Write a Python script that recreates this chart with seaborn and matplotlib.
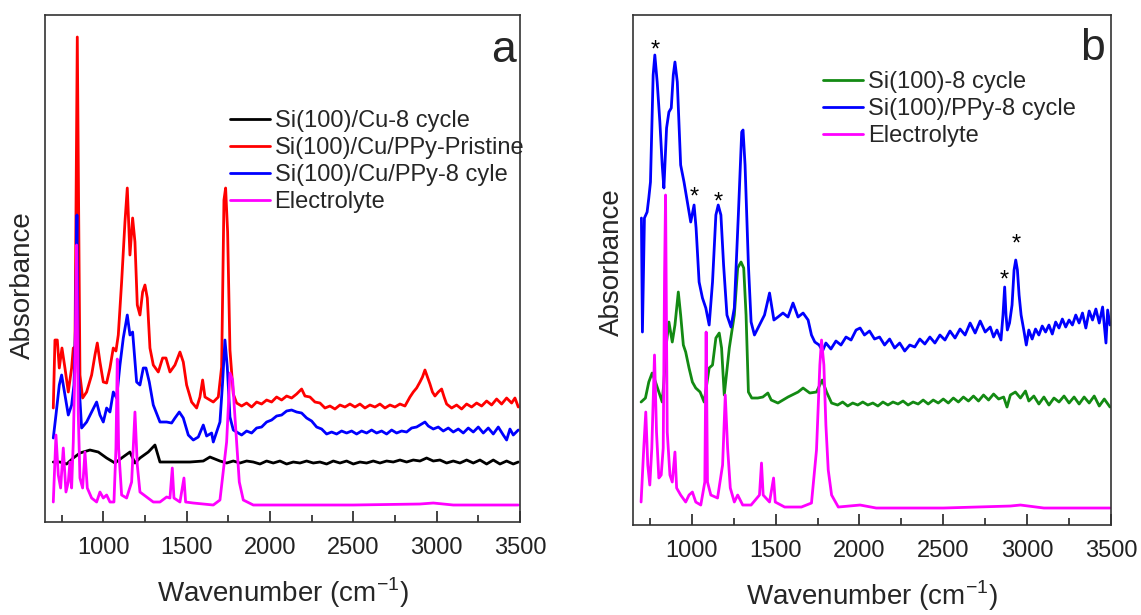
import matplotlib
matplotlib.use("Agg")
import matplotlib.pyplot as plt
import seaborn as sns

# ---- panel a: Si(100)/Cu samples (wavenumber cm-1, absorbance a.u.) ----
a_cu_wn = [700, 740, 780, 820, 860, 920, 970, 1020, 1070, 1110, 1160, 1190, 1220, 1270,
           1310, 1340, 1420, 1520, 1600, 1640, 1700, 1740, 1780, 1820, 1860, 1900, 1940,
           1980, 2020, 2060, 2100, 2140, 2180, 2220, 2260, 2300, 2340, 2380, 2420, 2460,
           2500, 2540, 2580, 2620, 2660, 2700, 2740, 2780, 2820, 2860, 2900, 2940, 2980,
           3020, 3060, 3100, 3140, 3180, 3220, 3260, 3300, 3340, 3380, 3420, 3460, 3490]
a_cu_abs = [0.60, 0.60, 0.58, 0.64, 0.69, 0.72, 0.70, 0.64, 0.59, 0.64, 0.70, 0.59, 0.64,
            0.70, 0.77, 0.60, 0.60, 0.60, 0.61, 0.65, 0.61, 0.59, 0.61, 0.59, 0.61, 0.60,
            0.58, 0.61, 0.59, 0.61, 0.58, 0.60, 0.59, 0.61, 0.59, 0.60, 0.58, 0.61, 0.59,
            0.61, 0.58, 0.60, 0.59, 0.61, 0.59, 0.61, 0.60, 0.62, 0.60, 0.62, 0.61, 0.64,
            0.61, 0.62, 0.59, 0.61, 0.59, 0.62, 0.59, 0.62, 0.58, 0.62, 0.58, 0.61, 0.58,
            0.60]

a_pristine_wn = [700, 710, 724, 736, 752, 770, 790, 810, 820, 830, 844, 860, 876, 900, 930,
                 950, 964, 980, 1000, 1020, 1040, 1060, 1076, 1090, 1110, 1130, 1144, 1160,
                 1176, 1190, 1204, 1220, 1236, 1250, 1264, 1280, 1300, 1330, 1356, 1376,
                 1400, 1430, 1460, 1480, 1500, 1530, 1560, 1580, 1596, 1610, 1640, 1660,
                 1690, 1710, 1724, 1734, 1746, 1760, 1780, 1800, 1830, 1860, 1890, 1920,
                 1950, 1980, 2010, 2040, 2070, 2100, 2130, 2160, 2190, 2210, 2240, 2270,
                 2300, 2330, 2360, 2390, 2420, 2450, 2480, 2510, 2540, 2570, 2600, 2630,
                 2660, 2690, 2720, 2750, 2780, 2810, 2840, 2860, 2880, 2900, 2915, 2930,
                 2945, 2960, 2975, 2990, 3010, 3030, 3045, 3060, 3090, 3120, 3150, 3180,
                 3210, 3240, 3270, 3300, 3330, 3360, 3390, 3420, 3450, 3470, 3490]
a_pristine_abs = [1.14, 1.82, 1.82, 1.54, 1.74, 1.54, 1.30, 1.54, 1.74, 1.74, 4.85, 1.47,
                  1.24, 1.30, 1.47, 1.67, 1.79, 1.60, 1.40, 1.39, 1.54, 1.74, 1.71, 1.87,
                  2.40, 3.00, 3.34, 2.67, 3.04, 2.80, 2.17, 2.07, 2.30, 2.37, 2.24, 1.74,
                  1.57, 1.50, 1.64, 1.64, 1.50, 1.57, 1.70, 1.60, 1.37, 1.20, 1.14, 1.25,
                  1.42, 1.25, 1.22, 1.20, 1.25, 1.55, 3.22, 3.34, 2.90, 1.72, 1.28, 1.19,
                  1.16, 1.19, 1.15, 1.20, 1.18, 1.22, 1.20, 1.25, 1.22, 1.26, 1.24, 1.28,
                  1.33, 1.26, 1.25, 1.20, 1.19, 1.14, 1.16, 1.13, 1.17, 1.15, 1.18, 1.15,
                  1.18, 1.14, 1.17, 1.15, 1.18, 1.14, 1.17, 1.15, 1.18, 1.16, 1.25, 1.30,
                  1.34, 1.40, 1.45, 1.52, 1.45, 1.38, 1.30, 1.26, 1.30, 1.33, 1.25, 1.18,
                  1.14, 1.17, 1.13, 1.18, 1.15, 1.19, 1.16, 1.21, 1.17, 1.23, 1.18, 1.24,
                  1.19, 1.24, 1.15]

a_ppy8_wn = [700, 716, 736, 750, 770, 790, 810, 824, 834, 842, 850, 870, 900, 930, 960, 980,
             1000, 1020, 1040, 1060, 1080, 1100, 1120, 1144, 1160, 1176, 1200, 1220, 1240,
             1256, 1276, 1300, 1340, 1380, 1410, 1430, 1456, 1480, 1510, 1540, 1570, 1600,
             1620, 1650, 1660, 1680, 1700, 1716, 1730, 1744, 1760, 1780, 1800, 1830, 1860,
             1890, 1920, 1950, 1980, 2010, 2040, 2070, 2100, 2130, 2160, 2190, 2220, 2250,
             2280, 2310, 2340, 2370, 2400, 2430, 2460, 2490, 2520, 2550, 2580, 2610, 2640,
             2670, 2700, 2730, 2760, 2790, 2820, 2850, 2880, 2910, 2930, 2950, 2980, 3010,
             3040, 3070, 3100, 3130, 3160, 3190, 3220, 3250, 3280, 3310, 3340, 3370, 3400,
             3420, 3440, 3460, 3490]
a_ppy8_abs = [0.84, 1.07, 1.37, 1.47, 1.27, 1.07, 1.17, 1.37, 2.00, 3.07, 1.50, 0.94, 1.00,
              1.10, 1.20, 1.07, 1.00, 1.14, 1.10, 1.30, 1.24, 1.57, 1.84, 2.07, 1.87, 1.90,
              1.40, 1.37, 1.54, 1.54, 1.40, 1.17, 1.00, 1.00, 0.99, 1.04, 1.10, 1.04, 0.87,
              0.82, 0.85, 0.97, 0.86, 0.89, 0.80, 0.90, 1.00, 1.40, 1.82, 1.55, 1.05, 0.92,
              0.90, 0.87, 0.91, 0.89, 0.94, 0.95, 1.00, 1.02, 1.06, 1.07, 1.11, 1.12, 1.10,
              1.09, 1.04, 1.01, 0.95, 0.93, 0.88, 0.90, 0.88, 0.91, 0.89, 0.91, 0.88, 0.91,
              0.89, 0.92, 0.89, 0.91, 0.88, 0.92, 0.89, 0.91, 0.90, 0.94, 0.95, 0.98, 1.00,
              0.96, 0.93, 0.95, 0.91, 0.94, 0.90, 0.93, 0.89, 0.94, 0.90, 0.95, 0.89, 0.94,
              0.88, 0.95, 0.87, 0.82, 0.93, 0.87, 0.92]

a_elec_wn = [700, 716, 730, 744, 760, 776, 790, 800, 810, 820, 832, 840, 850, 860, 876, 890,
             904, 930, 960, 980, 1000, 1020, 1040, 1064, 1076, 1084, 1092, 1110, 1140, 1170,
             1190, 1204, 1220, 1260, 1300, 1340, 1380, 1400, 1414, 1424, 1460, 1484, 1494,
             1540, 1600, 1660, 1700, 1740, 1760, 1776, 1788, 1800, 1816, 1840, 1900, 2000,
             2500, 2900, 2980, 3100, 3490]
a_elec_abs = [0.20, 0.87, 0.47, 0.34, 0.74, 0.30, 0.40, 0.60, 0.34, 0.80, 1.73, 2.77, 1.07,
              0.44, 0.34, 0.70, 0.34, 0.24, 0.20, 0.30, 0.24, 0.27, 0.20, 0.20, 0.74, 1.63,
              0.74, 0.27, 0.24, 0.40, 1.10, 0.57, 0.30, 0.25, 0.20, 0.20, 0.25, 0.24, 0.54,
              0.24, 0.20, 0.44, 0.20, 0.19, 0.18, 0.17, 0.22, 0.80, 1.49, 1.42, 1.10, 0.80,
              0.40, 0.22, 0.17, 0.17, 0.17, 0.18, 0.19, 0.17, 0.17]

# ---- panel b: Si(100) samples ----
b_si8_wn = [698, 724, 744, 764, 784, 804, 824, 834, 850, 864, 884, 900, 920, 934, 950, 964,
            984, 1004, 1024, 1050, 1074, 1104, 1124, 1144, 1164, 1178, 1194, 1224, 1254,
            1274, 1294, 1310, 1324, 1338, 1358, 1394, 1424, 1454, 1474, 1514, 1574, 1634,
            1664, 1704, 1744, 1778, 1804, 1834, 1870, 1900, 1930, 1960, 1990, 2020, 2050,
            2080, 2110, 2140, 2170, 2200, 2230, 2260, 2290, 2320, 2350, 2380, 2410, 2440,
            2470, 2500, 2530, 2560, 2590, 2620, 2650, 2680, 2710, 2740, 2770, 2800, 2830,
            2860, 2880, 2900, 2930, 2960, 2990, 3010, 3040, 3070, 3100, 3130, 3160, 3190,
            3220, 3250, 3280, 3310, 3340, 3370, 3400, 3430, 3460, 3494]
b_si8_abs = [1.23, 1.27, 1.43, 1.52, 1.43, 1.33, 1.23, 1.43, 1.83, 2.03, 1.83, 2.00, 2.33,
             2.10, 1.80, 1.73, 1.57, 1.43, 1.37, 1.33, 1.23, 1.57, 1.60, 1.87, 1.92, 1.77,
             1.30, 1.77, 2.10, 2.57, 2.63, 2.57, 2.10, 1.33, 1.27, 1.27, 1.28, 1.32, 1.25,
             1.22, 1.28, 1.33, 1.37, 1.32, 1.33, 1.45, 1.33, 1.22, 1.20, 1.23, 1.19, 1.22,
             1.20, 1.23, 1.20, 1.22, 1.19, 1.23, 1.20, 1.23, 1.21, 1.24, 1.20, 1.23, 1.21,
             1.25, 1.21, 1.25, 1.22, 1.26, 1.22, 1.27, 1.23, 1.28, 1.24, 1.29, 1.24, 1.30,
             1.25, 1.31, 1.26, 1.28, 1.18, 1.30, 1.33, 1.27, 1.34, 1.24, 1.29, 1.21, 1.28,
             1.20, 1.27, 1.23, 1.29, 1.22, 1.28, 1.21, 1.28, 1.22, 1.29, 1.19, 1.26, 1.18]

b_ppy8_wn = [700, 706, 718, 734, 744, 754, 770, 780, 794, 810, 824, 834, 850, 864, 878, 890,
             900, 914, 934, 954, 974, 994, 1014, 1026, 1044, 1064, 1084, 1104, 1124, 1144,
             1158, 1174, 1190, 1210, 1234, 1254, 1278, 1298, 1306, 1318, 1338, 1354, 1374,
             1404, 1434, 1464, 1490, 1514, 1544, 1574, 1604, 1634, 1664, 1694, 1714, 1734,
             1760, 1780, 1800, 1830, 1860, 1890, 1920, 1950, 1980, 2004, 2030, 2060, 2090,
             2120, 2150, 2180, 2210, 2240, 2270, 2300, 2330, 2360, 2390, 2420, 2450, 2480,
             2510, 2540, 2570, 2600, 2630, 2660, 2690, 2720, 2750, 2780, 2800, 2820, 2844,
             2856, 2866, 2874, 2882, 2895, 2910, 2922, 2932, 2942, 2952, 2964, 2980, 2995,
             3010, 3030, 3050, 3070, 3090, 3110, 3130, 3150, 3170, 3190, 3210, 3230, 3250,
             3270, 3290, 3310, 3330, 3350, 3370, 3390, 3410, 3430, 3450, 3470, 3480, 3494]
b_ppy8_abs = [3.07, 1.93, 3.07, 3.13, 3.27, 3.43, 4.50, 4.70, 4.43, 4.03, 3.60, 3.37, 3.97,
              4.13, 4.17, 4.50, 4.63, 4.43, 3.60, 3.43, 3.23, 3.03, 3.20, 2.97, 2.43, 2.27,
              2.17, 2.00, 2.43, 3.10, 3.20, 3.10, 2.60, 2.10, 1.98, 2.17, 3.10, 3.93, 3.95,
              3.60, 2.60, 2.03, 1.90, 2.00, 2.10, 2.32, 2.05, 2.08, 2.12, 2.08, 2.22, 2.08,
              2.12, 2.05, 1.90, 1.83, 1.80, 1.74, 1.82, 1.76, 1.84, 1.80, 1.88, 1.85, 1.95,
              1.97, 1.90, 1.94, 1.86, 1.88, 1.80, 1.86, 1.77, 1.82, 1.74, 1.80, 1.78, 1.86,
              1.81, 1.88, 1.82, 1.90, 1.85, 1.94, 1.87, 1.96, 1.90, 2.02, 1.92, 2.04, 1.93,
              1.98, 1.88, 1.95, 1.85, 2.10, 2.38, 2.10, 1.95, 2.02, 2.20, 2.55, 2.65, 2.55,
              2.30, 2.10, 1.95, 1.80, 1.95, 1.86, 1.96, 1.90, 1.99, 1.93, 2.00, 1.91, 2.03,
              1.97, 2.06, 1.98, 2.05, 2.00, 2.10, 2.02, 2.12, 1.97, 2.14, 2.05, 2.16, 2.02,
              2.18, 1.82, 2.15, 2.00]

b_elec_wn = [698, 714, 726, 738, 750, 762, 778, 790, 804, 818, 830, 838, 844, 854, 870, 884,
             900, 910, 934, 964, 984, 1004, 1024, 1054, 1078, 1086, 1094, 1114, 1154, 1184,
             1200, 1214, 1230, 1254, 1274, 1304, 1354, 1404, 1416, 1426, 1464, 1488, 1498,
             1554, 1654, 1714, 1744, 1764, 1774, 1788, 1800, 1814, 1834, 1874, 2004, 2100,
             2500, 2900, 2960, 3100, 3494]
b_elec_abs = [0.23, 0.77, 1.13, 0.60, 0.40, 0.77, 1.70, 0.93, 0.47, 0.50, 0.77, 2.50, 3.30,
              0.93, 0.50, 0.43, 0.73, 0.37, 0.30, 0.23, 0.30, 0.33, 0.23, 0.20, 0.43, 1.93,
              0.43, 0.30, 0.27, 0.60, 1.30, 0.77, 0.37, 0.23, 0.30, 0.20, 0.20, 0.30, 0.62,
              0.30, 0.23, 0.47, 0.23, 0.18, 0.18, 0.22, 0.75, 1.60, 1.85, 1.60, 1.00, 0.55,
              0.30, 0.18, 0.20, 0.17, 0.17, 0.19, 0.20, 0.17, 0.17]

# peaks marked with asterisks in panel b
star_wn = [780, 1014, 1156, 2864, 2932]
star_abs = [4.745, 3.275, 3.225, 2.445, 2.80]

sns.set_style("ticks")
plt.rcParams["font.family"] = ["Liberation Sans", "DejaVu Sans"]
plt.rcParams["mathtext.fontset"] = "custom"
plt.rcParams["mathtext.rm"] = "Liberation Sans"

fig = plt.figure(figsize=(11.41, 6.15), dpi=100)
ax_a = fig.add_axes([0.0394, 0.1512, 0.4163, 0.8244])
ax_b = fig.add_axes([0.5548, 0.1463, 0.4189, 0.8293])


def draw(ax, wn, ab, color, label):
    sns.lineplot(x=wn, y=ab, color=color, lw=2.0, label=label, ax=ax,
                 sort=False, estimator=None)


draw(ax_a, a_cu_wn, a_cu_abs, "black", "Si(100)/Cu-8 cycle")
draw(ax_a, a_pristine_wn, a_pristine_abs, "#ff0000", "Si(100)/Cu/PPy-Pristine")
draw(ax_a, a_ppy8_wn, a_ppy8_abs, "#0000ff", "Si(100)/Cu/PPy-8 cyle")
draw(ax_a, a_elec_wn, a_elec_abs, "#ff00ff", "Electrolyte")

draw(ax_b, b_si8_wn, b_si8_abs, "#138a13", "Si(100)-8 cycle")
draw(ax_b, b_ppy8_wn, b_ppy8_abs, "#0000ff", "Si(100)/PPy-8 cycle")
draw(ax_b, b_elec_wn, b_elec_abs, "#ff00ff", "Electrolyte")

for w, a in zip(star_wn, star_abs):
    ax_b.text(w, a, "*", ha="center", va="center", fontsize=17, color="black")

ax_a.set_ylim(0, 5.07)
ax_b.set_ylim(0, 5.10)

legend_pos = {ax_a: (0.389, 0.812), ax_b: (0.397, 0.890)}
letter_pos = {ax_a: (0.965, 0.93), ax_b: (0.962, 0.935)}
ylabel_pos = {ax_a: (-0.019, 0.467), ax_b: (-0.017, 0.516)}
for ax, letter in [(ax_a, "a"), (ax_b, "b")]:
    ax.set_xlim(650, 3500)
    ax.set_xticks([1000, 1500, 2000, 2500, 3000, 3500])
    ax.set_xticks([750, 1250, 1750, 2250, 2750, 3250], minor=True)
    ax.set_yticks([])
    ax.tick_params(axis="x", which="major", direction="in", length=8, width=1.2,
                   labelsize=17, pad=11, colors="#222222")
    ax.tick_params(axis="x", which="minor", direction="in", length=5, width=1.2)
    for s in ax.spines.values():
        s.set_visible(True)
        s.set_linewidth(1.2)
        s.set_color("#333333")
    ax.set_xlabel("Wavenumber (cm$^{-1}$)", fontsize=20, labelpad=12)
    ax.set_ylabel("Absorbance", fontsize=20)
    ax.yaxis.set_label_coords(*ylabel_pos[ax])
    ax.text(*letter_pos[ax], letter, transform=ax.transAxes, fontsize=32,
            ha="center", va="center")
    ax.legend(loc="upper left", bbox_to_anchor=legend_pos[ax], frameon=False,
              fontsize=17, handlelength=1.7, handletextpad=0.2, labelspacing=0.21,
              borderaxespad=0, borderpad=0)

fig.savefig("out.png", dpi=100)
